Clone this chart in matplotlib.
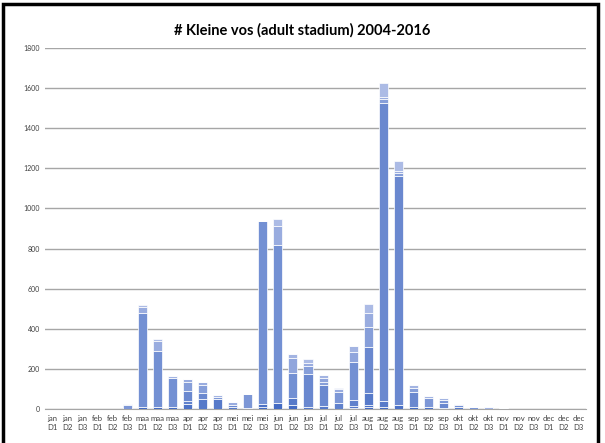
import matplotlib
matplotlib.use("Agg")
import matplotlib.pyplot as plt
from matplotlib.patches import Rectangle
import numpy as np

# categories: month + decade (D1..D3)
months = ["jan", "feb", "maa", "apr", "mei", "jun", "jul", "aug", "sep", "okt", "nov", "dec"]
decades = ["D1", "D2", "D3"]
labels = [m + "\n" + d for m in months for d in decades]
years = list(range(2004, 2017))

# counts per year per decade (stacked bottom -> top)
y2004 = [0]*36
y2005 = [0, 0, 0, 0, 0, 0, 12, 8, 12, 0, 0, 0, 0, 0, 12, 28, 18, 0, 0, 0, 0, 11, 8, 0, 8, 0, 0, 0, 0, 0, 0, 0, 0, 0, 0, 0]
y2006 = [0, 0, 0, 0, 0, 0, 0, 0, 0, 23, 0, 0, 0, 0, 13, 0, 0, 0, 0, 0, 5, 8, 0, 20, 0, 12, 0, 0, 0, 0, 0, 0, 0, 0, 0, 0]
y2007 = [0, 0, 0, 0, 0, 0, 0, 0, 0, 0, 48, 48, 10, 3, 0, 0, 38, 8, 15, 0, 8, 62, 30, 0, 0, 0, 5, 8, 0, 0, 0, 0, 0, 0, 0, 0]
y2008 = [0, 0, 0, 0, 0, 0, 0, 0, 0, 17, 0, 0, 0, 0, 0, 0, 0, 0, 0, 28, 32, 0, 0, 0, 0, 0, 0, 0, 0, 0, 0, 0, 0, 0, 0, 0]
y2009 = [0, 0, 0, 0, 0, 0, 0, 0, 0, 50, 30, 0, 12, 0, 0, 0, 0, 165, 105, 0, 0, 230, 1490, 1141, 78, 0, 23, 0, 0, 0, 0, 0, 0, 0, 0, 0]
y2010 = [0, 0, 0, 0, 0, 0, 468, 281, 144, 0, 0, 0, 0, 0, 912, 790, 122, 0, 0, 0, 191, 0, 0, 0, 0, 0, 0, 12, 0, 0, 0, 0, 0, 0, 0, 0]
y2011 = [0, 0, 0, 0, 0, 22, 0, 0, 0, 0, 0, 13, 0, 73, 0, 0, 0, 0, 0, 58, 0, 0, 0, 0, 0, 41, 17, 0, 8, 0, 0, 0, 0, 0, 0, 0]
y2012 = [0, 0, 0, 0, 0, 0, 0, 0, 0, 46, 42, 0, 0, 0, 0, 0, 0, 43, 16, 0, 0, 96, 17, 14, 17, 0, 0, 0, 0, 0, 0, 0, 0, 0, 0, 0]
y2013 = [0, 0, 0, 0, 0, 0, 0, 0, 0, 0, 0, 0, 0, 0, 0, 0, 78, 0, 17, 0, 50, 0, 0, 0, 0, 0, 0, 0, 0, 0, 0, 0, 0, 0, 0, 0]
y2014 = [0, 0, 0, 0, 0, 0, 30, 50, 0, 12, 13, 0, 13, 0, 0, 96, 0, 12, 0, 12, 0, 73, 10, 11, 0, 0, 0, 5, 0, 0, 5, 0, 0, 0, 0, 0]
y2015 = [0, 0, 0, 0, 0, 3, 0, 0, 8, 0, 0, 9, 0, 0, 0, 0, 20, 0, 17, 0, 28, 0, 0, 0, 17, 12, 11, 0, 3, 10, 0, 0, 2, 0, 0, 0]
y2016 = [0, 0, 0, 0, 0, 0, 8, 10, 0, 0, 0, 0, 0, 0, 0, 32, 0, 21, 0, 5, 0, 42, 72, 50, 0, 0, 0, 0, 0, 0, 0, 0, 0, 0, 0, 0]

series = [y2004, y2005, y2006, y2007, y2008, y2009, y2010,
          y2011, y2012, y2013, y2014, y2015, y2016]

# blue shades, darkest for the first year, lightest for the last
dark = np.array([58, 100, 192]) / 255
light = np.array([172, 187, 229]) / 255
colors = [tuple(dark + (light - dark) * i / 12) for i in range(13)]

fig = plt.figure(figsize=(6.05, 4.43), dpi=100)
ax = fig.add_axes([0.0744, 0.0767, 0.8942, 0.8149])

x = np.arange(len(labels))
bottom = np.zeros(len(labels))
for vals, col, yr in zip(series, colors, years):
    vals = np.array(vals, dtype=float)
    ax.bar(x, vals, width=0.6, bottom=bottom, color=col, edgecolor="white",
           linewidth=0.5, label=str(yr), zorder=3)
    bottom += vals

ax.set_xlim(-0.5, len(labels) - 0.5)
ax.set_ylim(0, 1800)
ax.set_yticks(np.arange(0, 1801, 200))
ax.yaxis.grid(True, color="#a6a6a6", linewidth=1.0, zorder=0)
ax.set_axisbelow(True)
for s in ["top", "right", "left"]:
    ax.spines[s].set_visible(False)
ax.spines["bottom"].set_color("#a6a6a6")
ax.tick_params(axis="both", length=0, labelsize=5, labelcolor="#404040")
ax.tick_params(axis="x", pad=4)
ax.set_xticks(x)
ax.set_xticklabels(labels, fontsize=5.6, linespacing=1.45)
for t in ax.get_xticklabels() + ax.get_yticklabels():
    t.set_family("Lato")

fig.text(0.5, 0.932, "# Kleine vos (adult stadium) 2004-2016", ha="center", va="center",
         fontsize=10.5, fontweight="bold", family="Lato", color="black")

# black frame around the chart
fig.patches.append(Rectangle((0.005, -0.05), 0.984, 1.041, transform=fig.transFigure,
                             fill=False, edgecolor="black", linewidth=2.5))

fig.savefig("out.png", dpi=100)
